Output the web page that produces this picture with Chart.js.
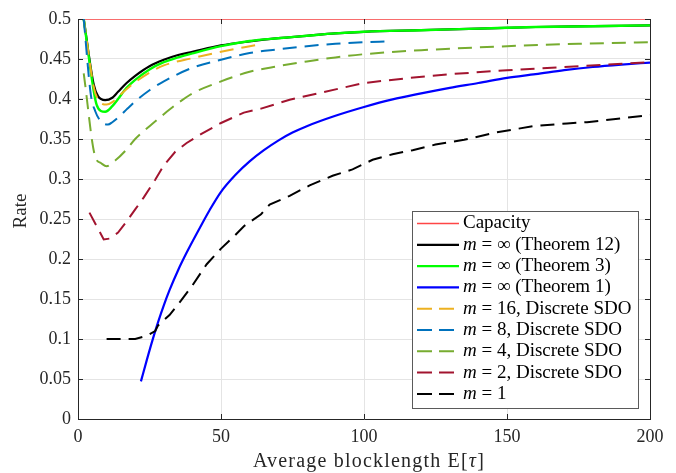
<!DOCTYPE html>
<html><head><meta charset="utf-8">
<script src="https://cdn.jsdelivr.net/npm/chart.js@4.4.1/dist/chart.umd.min.js"></script>
<style>html,body{margin:0;padding:0;background:#fff;}canvas{display:block;}</style>
</head><body>
<canvas id="c" width="676" height="473"></canvas>
<script>
// ---- data ----
const seriesLabels = ["Capacity", "m = ∞ (Theorem 12)", "m = ∞ (Theorem 3)", "m = ∞ (Theorem 1)",
  "m = 16, Discrete SDO", "m = 8, Discrete SDO", "m = 4, Discrete SDO", "m = 2, Discrete SDO", "m = 1"];
const xTickValues = [0, 50, 100, 150, 200];
const xTickLabels = ["0", "50", "100", "150", "200"];
const yTickValues = [0, 0.05, 0.1, 0.15, 0.2, 0.25, 0.3, 0.35, 0.4, 0.45, 0.5];
const yTickLabels = ["0", "0.05", "0.1", "0.15", "0.2", "0.25", "0.3", "0.35", "0.4", "0.45", "0.5"];
const xTitle = "Average blocklength E[τ]";
const yTitle = "Rate";

const capacityX = [0, 200];
const capacityY = [0.5, 0.5];
const thm12X = [2, 5.5, 7, 9.5, 12, 14, 17, 20, 25, 30, 35, 40, 50, 60, 70, 80, 90, 100, 120, 140, 160, 180, 200];
const thm12Y = [0.5, 0.418, 0.4035, 0.3986, 0.4016, 0.409, 0.42, 0.429, 0.441, 0.449, 0.455, 0.459, 0.467, 0.472, 0.476, 0.479, 0.482, 0.484, 0.486, 0.488, 0.490, 0.491, 0.492];
const thm3X = [2, 5.5, 6.5, 8, 9.5, 12, 14, 17, 20, 25, 30, 35, 40, 50, 60, 70, 80, 90, 100, 120, 140, 160, 180, 200];
const thm3Y = [0.5, 0.41, 0.393, 0.385, 0.384, 0.391, 0.4, 0.414, 0.424, 0.437, 0.446, 0.452, 0.457, 0.466, 0.4725, 0.476, 0.479, 0.482, 0.484, 0.486, 0.488, 0.490, 0.491, 0.492];
const thm1X = [22, 24, 26, 28, 30, 32, 35, 38, 42, 46, 50, 55, 60, 65, 70, 75, 80, 90, 100, 110, 120, 130, 140, 150, 160, 170, 180, 190, 200];
const thm1Y = [0.047, 0.073, 0.098, 0.121, 0.142, 0.161, 0.186, 0.208, 0.235, 0.261, 0.284, 0.305, 0.322, 0.336, 0.348, 0.358, 0.366, 0.379, 0.39, 0.3995, 0.407, 0.414, 0.42, 0.4265, 0.431, 0.436, 0.44, 0.443, 0.4455];
const m16X = [2, 5.5, 7, 10, 12, 15, 20, 25, 30, 40, 50, 63];
const m16Y = [0.5, 0.415, 0.3995, 0.393, 0.396, 0.406, 0.421, 0.433, 0.442, 0.451, 0.459, 0.468];
const m8X = [2, 4.5, 6, 8, 10.5, 12, 15, 17, 20, 25, 30, 40, 50, 60, 70, 80, 90, 100, 108];
const m8Y = [0.5, 0.405, 0.385, 0.372, 0.368, 0.371, 0.38, 0.387, 0.397, 0.411, 0.422, 0.439, 0.449, 0.4575, 0.462, 0.466, 0.469, 0.471, 0.472];
const m4X = [2, 6, 8, 10, 13, 17, 20, 25, 30, 35, 40, 50, 60, 70, 80, 90, 100, 120, 150, 175, 200];
const m4Y = [0.432, 0.328, 0.32, 0.316, 0.323, 0.337, 0.35, 0.366, 0.381, 0.395, 0.407, 0.422, 0.434, 0.441, 0.447, 0.452, 0.456, 0.461, 0.466, 0.469, 0.471];
const m2X = [4, 9, 11, 14, 17, 20, 23, 27, 30, 34, 38, 43, 50, 58, 64, 74, 85, 100, 115, 130, 150, 175, 200];
const m2Y = [0.258, 0.2245, 0.2255, 0.233, 0.247, 0.262, 0.277, 0.299, 0.317, 0.334, 0.345, 0.356, 0.37, 0.383, 0.388, 0.399, 0.408, 0.42, 0.426, 0.431, 0.436, 0.441, 0.446];
const m1X = [10, 20, 24, 27, 28, 32, 36, 40, 43, 45, 50, 55, 58, 64, 67, 74, 81, 89, 96, 103, 110, 117, 125, 135, 146, 159, 171, 178, 188, 200];
const m1Y = [0.1, 0.1, 0.104, 0.11, 0.117, 0.13, 0.148, 0.167, 0.183, 0.1935, 0.213, 0.23, 0.241, 0.256, 0.268, 0.279, 0.292, 0.304, 0.312, 0.324, 0.331, 0.336, 0.343, 0.349, 0.358, 0.366, 0.3695, 0.371, 0.375, 0.38];

// ---- styles ----
const seriesXs = [capacityX, thm12X, thm3X, thm1X, m16X, m8X, m4X, m2X, m1X];
const seriesYs = [capacityY, thm12Y, thm3Y, thm1Y, m16Y, m8Y, m4Y, m2Y, m1Y];
const seriesColors = ["#ff4646", "#000000", "#00ff00", "#0000ff", "#EDB120", "#0072BD", "#77AC30", "#A2142F", "#000000"];
const seriesWidths = [1.6, 2.2, 2.4, 2.2, 2, 2, 2, 2, 2];
const seriesDashed = [false, false, false, false, true, true, true, true, true];
const seriesSmooth = [false, true, true, true, true, true, true, false, false];

const SERIF = '"Liberation Serif", "Times New Roman", serif';
const AX = '#262626';
Chart.defaults.font.family = SERIF;

const datasets = seriesLabels.map((lab, i) => ({
  label: lab,
  data: seriesXs[i].map((x, k) => ({x: x, y: seriesYs[i][k]})),
  borderColor: seriesColors[i],
  backgroundColor: seriesColors[i],
  borderWidth: seriesWidths[i],
  borderDash: seriesDashed[i] ? [14, 8] : [],
  pointRadius: 0,
  fill: false,
  tension: 0,
  cubicInterpolationMode: seriesSmooth[i] ? 'monotone' : 'default',
  order: seriesLabels.length - i
}));

const framePlugin = {
  id: 'frame',
  afterDatasetsDraw(chart) {
    const {ctx, chartArea: a, scales} = chart;
    ctx.save();
    ctx.strokeStyle = AX;
    ctx.lineWidth = 1;
    ctx.beginPath();
    ctx.moveTo(a.right + 0.5, a.top); ctx.lineTo(a.right + 0.5, a.bottom);
    ctx.stroke();
    const tl = 5;
    ctx.beginPath();
    xTickValues.forEach(v => {
      const px = Math.round(scales.x.getPixelForValue(v)) + 0.5;
      ctx.moveTo(px, a.bottom); ctx.lineTo(px, a.bottom - tl);
      ctx.moveTo(px, a.top); ctx.lineTo(px, a.top + tl);
    });
    yTickValues.forEach(v => {
      const py = Math.round(scales.y.getPixelForValue(v)) + 0.5;
      ctx.moveTo(a.left, py); ctx.lineTo(a.left + tl, py);
      ctx.moveTo(a.right, py); ctx.lineTo(a.right - tl, py);
    });
    ctx.stroke();
    ctx.restore();
  },
  afterDraw(chart) {
    const {ctx, chartArea: a} = chart;
    ctx.save();
    ctx.fillStyle = AX;
    // x title
    if ('letterSpacing' in ctx) ctx.letterSpacing = '1.2px';
    ctx.textBaseline = 'alphabetic';
    const parts = [["Average blocklength E[", ''], ["τ", 'italic '], ["]", '']];
    let total = 0;
    parts.forEach(p => { ctx.font = p[1] + '20px ' + SERIF; total += ctx.measureText(p[0]).width; });
    let x = (a.left + a.right) / 2 + 5 - total / 2;
    parts.forEach(p => { ctx.font = p[1] + '20px ' + SERIF; ctx.fillText(p[0], x, 467); x += ctx.measureText(p[0]).width; });
    if ('letterSpacing' in ctx) ctx.letterSpacing = '0px';
    // y title
    ctx.translate(26, 211);
    ctx.rotate(-Math.PI / 2);
    ctx.font = '19px ' + SERIF;
    ctx.textAlign = 'center';
    ctx.fillText(yTitle, 0, 0);
    ctx.restore();

    // legend
    ctx.save();
    const bx = 412, by = 211, bw = 226, bh = 197;
    ctx.fillStyle = '#fff';
    ctx.fillRect(bx, by, bw, bh);
    ctx.strokeStyle = '#5a5a5a';
    ctx.lineWidth = 1;
    ctx.strokeRect(bx + 0.5, by + 0.5, bw, bh);
    chart.data.datasets.forEach((ds, i) => {
      const cy = 223.5 + i * 21.3;
      ctx.strokeStyle = ds.borderColor;
      ctx.lineWidth = ds.borderWidth;
      ctx.setLineDash(ds.borderDash.length ? [15, 7] : []);
      ctx.beginPath();
      ctx.moveTo(417, cy); ctx.lineTo(459, cy);
      ctx.stroke();
      ctx.setLineDash([]);
      ctx.fillStyle = '#000';
      ctx.textBaseline = 'middle';
      let tx = 463;
      let lab = ds.label;
      if (lab.startsWith('m ')) {
        ctx.font = 'italic 19px ' + SERIF;
        ctx.fillText('m', tx, cy);
        tx += ctx.measureText('m').width;
        lab = lab.slice(1);
      }
      ctx.font = '19px ' + SERIF;
      ctx.fillText(lab, tx, cy);
    });
    ctx.restore();
  }
};

new Chart(document.getElementById('c'), {
  type: 'line',
  data: {datasets},
  options: {
    responsive: false,
    animation: false,
    layout: {padding: {top: 19, right: 26, left: 0, bottom: 0}},
    plugins: {legend: {display: false}, tooltip: {enabled: false}},
    scales: {
      x: {
        type: 'linear', min: 0, max: 200,
        afterBuildTicks: s => { s.ticks = xTickValues.map(v => ({value: v})); },
        afterFit: s => { s.height = 54; },
        ticks: {font: {family: SERIF, size: 18}, color: AX, padding: 7, maxRotation: 0,
                callback: (v, i) => xTickLabels[i]},
        grid: {color: '#e4e4e4', drawTicks: false, lineWidth: 1},
        border: {display: true, color: AX, width: 1}
      },
      y: {
        type: 'linear', min: 0, max: 0.5,
        afterBuildTicks: s => { s.ticks = yTickValues.map(v => ({value: v})); },
        afterFit: s => { s.width = 78; },
        ticks: {font: {family: SERIF, size: 18}, color: AX, padding: 7,
                callback: (v, i) => yTickLabels[i]},
        grid: {color: '#e4e4e4', drawTicks: false, lineWidth: 1},
        border: {display: true, color: AX, width: 1}
      }
    }
  },
  plugins: [framePlugin]
});
</script>
</body></html>
